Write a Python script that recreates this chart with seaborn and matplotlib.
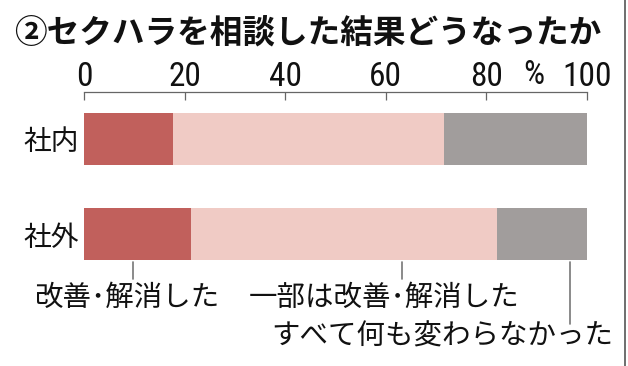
import matplotlib
matplotlib.use("Agg")
import matplotlib.pyplot as plt
from matplotlib import font_manager
from matplotlib.font_manager import FontProperties
from matplotlib.lines import Line2D
import pandas as pd
import seaborn as sns

# データ（％）
groups = ["社内", "社外"]
improved = [17.7, 21.2]          # 改善・解消した
partly = [54.0, 60.9]            # 一部は改善・解消した
nothing = [28.3, 17.9]           # すべて何も変わらなかった
series_labels = ["改善･解消した", "一部は改善･解消した", "すべて何も変わらなかった"]
ticks = [0, 20, 40, 60, 80, 100]

colors = ["#c1605c", "#f0cbc5", "#a19d9c"]

sns.set_style("white")
plt.rcParams["font.family"] = ["Noto Sans CJK JP", "DejaVu Sans"]

# 数字用の細い書体を探す
def pick_narrow():
    entries = font_manager.fontManager.ttflist
    for want in ["Liberation Sans Narrow", "Roboto Condensed", "Open Sans Condensed",
                 "Noto Sans Condensed", "DejaVu Sans Condensed"]:
        for f in entries:
            if f.name == want and f.style == "normal" and f.weight in (400, "normal", "regular"):
                return f.fname
    for f in entries:
        if (f.stretch in ("condensed", "semi-condensed", "extra-condensed")
                or "Condensed" in f.name or "Narrow" in f.name) \
                and "Mono" not in f.name and f.style == "normal" \
                and f.weight in (400, "normal", "regular"):
            return f.fname
    return None

num_file = pick_narrow()

df = pd.DataFrame({"group": groups, "improved": improved, "partly": partly, "nothing": nothing})
df["c1"] = df["improved"]
df["c2"] = df["c1"] + df["partly"]
df["c3"] = df["c2"] + df["nothing"]

fig = plt.figure(figsize=(6.28, 3.66), dpi=100)
ax = fig.add_axes([84 / 628, 0, 502.7 / 628, 274 / 366])

# 積み上げ棒（累積値を大きい順に重ねる）
for col, c in zip(["c3", "c2", "c1"], colors[::-1]):
    sns.barplot(data=df, x=col, y="group", orient="h", color=c, saturation=1,
                width=0.546, linewidth=0, ax=ax, zorder=2)

def py(px):
    # 画像の縦位置(px)をデータ座標へ
    return (px - 138.7) / 95.3

ax.set_xlim(0, 100)
ax.set_ylim(py(366), py(92))
ax.set_xlabel("")
ax.set_ylabel("")

ax.xaxis.tick_top()
ax.set_xticks(ticks)
ax.set_xticklabels([str(t) for t in ticks])
ax.tick_params(axis="x", direction="in", length=6, width=0.9, color="#666", pad=-0.5)
ax.tick_params(axis="y", length=0, pad=4, labelsize=20, labelcolor="#111")
for lab in ax.get_xticklabels():
    if num_file:
        lab.set_fontproperties(FontProperties(fname=num_file, size=24))
    else:
        lab.set_fontproperties(FontProperties(family="DejaVu Sans", size=19))
    lab.set_color("#111")

for s in ["left", "right", "bottom"]:
    ax.spines[s].set_visible(False)
ax.spines["top"].set_color("#666")
ax.spines["top"].set_linewidth(0.9)

pct_prop = FontProperties(fname=num_file, size=24) if num_file else FontProperties(size=18)
ax.text(89.5, py(75), "%", ha="center", va="center", fontproperties=pct_prop,
        color="#111", clip_on=False)

# 引き出し線とラベル
pointer_x = [9.8, 63.2, 96.7]
pointer_end = [279, 279, 324]
label_pos = [(-9.95, 297.5), (32.7, 297.5), (37.3, 337)]
for x, yend, (tx, ty), lab in zip(pointer_x, pointer_end, label_pos, series_labels):
    ax.plot([x, x], [py(262), py(yend)], color="#777", lw=1.2, clip_on=False)
    ax.text(tx, py(ty), lab, ha="left", va="center", fontsize=20.5, color="#111",
            clip_on=False)

fig.text(14 / 628, 1 - 33 / 366, "②セクハラを相談した結果どうなったか",
         ha="left", va="center", fontsize=23.5, fontweight="bold", color="#111")

fig.add_artist(Line2D([625 / 628, 625 / 628], [0, 1], color="#555", lw=1.2))

fig.savefig("out.png", dpi=100)
